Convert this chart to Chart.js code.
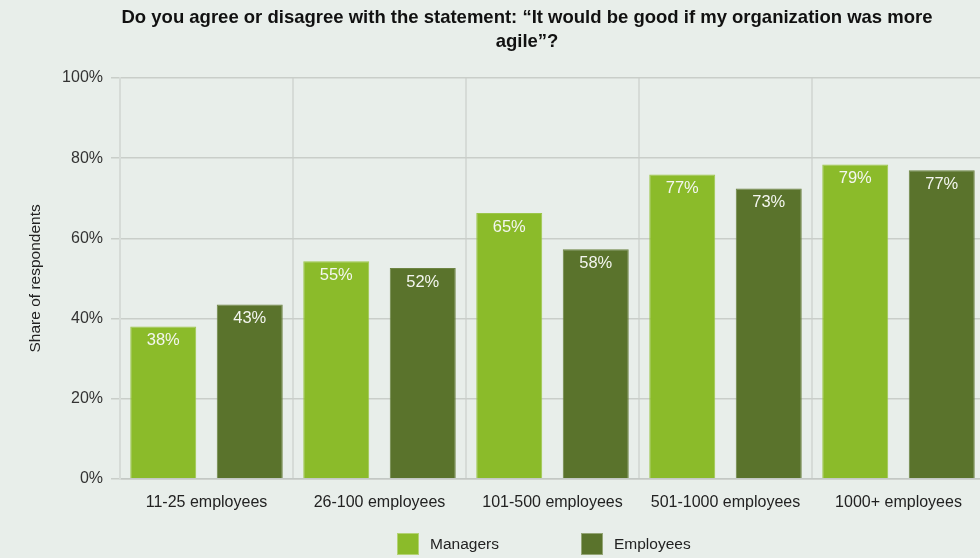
<!DOCTYPE html>
<html>
<head>
<meta charset="utf-8">
<script src="https://cdn.jsdelivr.net/npm/chart.js@4"></script>
<style>
  html, body { margin: 0; padding: 0; background: #e8eeea; overflow: hidden; }
  #wrap { width: 1054px; height: 558px; }
</style>
</head>
<body>
<div id="wrap"><canvas id="agileChart"></canvas></div>
<script>
const categories = ["11-25 employees", "26-100 employees", "101-500 employees", "501-1000 employees", "1000+ employees"];
const managers = [38, 54.3, 66.3, 75.9, 78.4];
const employees = [43.5, 52.6, 57.3, 72.4, 77.0];
const managerLabels = ["38%", "55%", "65%", "77%", "79%"];
const employeeLabels = ["43%", "52%", "58%", "73%", "77%"];
const yTicks = [0, 20, 40, 60, 80, 100];
const titleLines = [
  "Do you agree or disagree with the statement: \u201cIt would be good if my organization was more",
  "agile\u201d?",
];

const FONT = "'Liberation Sans', Arial, sans-serif";

// two-line bold title, centred over the full (wider than window) figure
const topTitle = {
  id: "topTitle",
  afterDraw(chart) {
    const ctx = chart.ctx;
    ctx.save();
    ctx.font = "bold 18.5px " + FONT;
    ctx.fillStyle = "#111";
    ctx.textAlign = "center";
    ctx.textBaseline = "middle";
    titleLines.forEach((t, i) => ctx.fillText(t, 527, 18 + i * 23.5));
    ctx.restore();
  }
};

// white value labels inside the top of each bar
const barLabels = {
  id: "barLabels",
  afterDatasetsDraw(chart) {
    const ctx = chart.ctx;
    ctx.save();
    ctx.font = "16.5px " + FONT;
    ctx.fillStyle = "#f4f6f0";
    ctx.textAlign = "center";
    ctx.textBaseline = "middle";
    chart.data.datasets.forEach((ds, i) => {
      chart.getDatasetMeta(i).data.forEach((bar, j) => {
        ctx.fillText(ds.valueLabels[j], bar.x, bar.y + 14);
      });
    });
    ctx.restore();
  }
};

// legend at the bottom, spaced like the original
const bottomLegend = {
  id: "bottomLegend",
  afterDraw(chart) {
    const ctx = chart.ctx;
    const xs = [397, 581];
    ctx.save();
    ctx.font = "15.5px " + FONT;
    ctx.textBaseline = "middle";
    chart.data.datasets.forEach((ds, i) => {
      ctx.fillStyle = ds.backgroundColor;
      ctx.fillRect(xs[i], 533, 22, 22);
      ctx.strokeStyle = "rgba(255,255,255,0.35)";
      ctx.strokeRect(xs[i] + 0.5, 533.5, 21, 21);
      ctx.fillStyle = "#222";
      ctx.fillText(ds.label, xs[i] + 33, 545);
    });
    ctx.restore();
  }
};

new Chart(document.getElementById("agileChart"), {
  type: "bar",
  data: {
    labels: categories,
    datasets: [
      {
        label: "Managers",
        data: managers,
        valueLabels: managerLabels,
        backgroundColor: "#8bbb2a",
        borderColor: "#9cc64a",
        borderWidth: 1,
      },
      {
        label: "Employees",
        data: employees,
        valueLabels: employeeLabels,
        backgroundColor: "#5a732c",
        borderColor: "#6d8443",
        borderWidth: 1,
      },
    ],
  },
  options: {
    responsive: true,
    maintainAspectRatio: false,
    animation: false,
    layout: { padding: { left: 0, right: 69, top: 78, bottom: 32 } },
    datasets: {
      bar: { categoryPercentage: 1.0, barPercentage: 0.763 },
    },
    plugins: {
      legend: { display: false },
      tooltip: { enabled: false },
      title: { display: false },
    },
    scales: {
      x: {
        grid: { color: "#d6dbd7", lineWidth: 2, drawTicks: false },
        border: { color: "#c3c8c4", width: 1.5 },
        ticks: { color: "#222", font: { family: FONT, size: 16 }, padding: 14, maxRotation: 0 },
      },
      y: {
        min: 0,
        max: 100,
        afterBuildTicks: (s) => { s.ticks = yTicks.map((v) => ({ value: v })); },
        afterFit: (s) => { s.width = 120; },
        grid: { color: "#c9cec9", lineWidth: 1.5, tickLength: 9 },
        border: { color: "#d6dbd7", width: 2 },
        ticks: {
          color: "#333",
          font: { family: FONT, size: 16 },
          padding: 8,
          callback: (v) => v + "%",
        },
        title: {
          display: true,
          text: "Share of respondents",
          color: "#222",
          font: { family: FONT, size: 15.5 },
          padding: { top: 26, bottom: 0 },
        },
      },
    },
  },
  plugins: [barLabels, bottomLegend, topTitle],
});
</script>
</body>
</html>
